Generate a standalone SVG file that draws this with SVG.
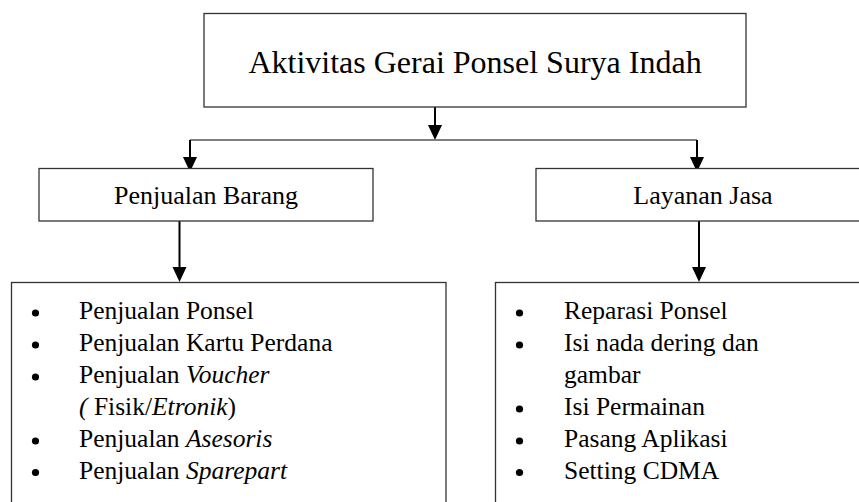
<svg xmlns="http://www.w3.org/2000/svg" width="859" height="502" viewBox="0 0 859 502" font-family="'Liberation Serif', 'Times New Roman', Times, 'DejaVu Serif', serif">
<style>
.box{fill:#fff;stroke:#333;stroke-width:1.3}
text{font-family:'Liberation Serif','Times New Roman',Times,'DejaVu Serif',serif;fill:#000}
.c{stroke:#000;stroke-width:2;fill:none}
.h{stroke:#555;stroke-width:1.3;fill:none}
.ah{fill:#000}
</style>
<g id="connectors">
<line class="c" x1="435" y1="107" x2="435" y2="126"/>
<polygon class="ah" points="428,125 442,125 435,140"/>
<polyline class="h" points="190,140 697,140"/>
<line class="c" x1="190" y1="140" x2="190" y2="158"/>
<polygon class="ah" points="183,157 197,157 190,172"/>
<line class="c" x1="697" y1="140" x2="697" y2="158"/>
<polygon class="ah" points="690,157 704,157 697,172"/>
<line class="c" x1="179.5" y1="221" x2="179.5" y2="268"/>
<polygon class="ah" points="172.5,267 186.5,267 179.5,282"/>
<line class="c" x1="699" y1="221" x2="699" y2="268"/>
<polygon class="ah" points="692,267 706,267 699,282"/>
</g>
<g id="root">
<rect class="box" x="204" y="13.5" width="542" height="93.5"/>
<text x="475" y="73" font-size="32" text-anchor="middle">Aktivitas Gerai Ponsel Surya Indah</text>
</g>
<g id="penjualan-barang">
<rect class="box" x="39" y="168.5" width="334" height="52.5"/>
<text x="206" y="203.5" font-size="26" text-anchor="middle">Penjualan Barang</text>
</g>
<g id="layanan-jasa">
<rect class="box" x="536" y="168.5" width="340" height="52.5"/>
<text x="703" y="203.5" font-size="26" text-anchor="middle">Layanan Jasa</text>
</g>
<g id="list-barang">
<rect class="box" x="11.5" y="282.5" width="434.5" height="240"/>
<g fill="#000">
<circle cx="35.5" cy="313" r="3.6"/>
<circle cx="35.5" cy="345" r="3.6"/>
<circle cx="35.5" cy="377" r="3.6"/>
<circle cx="35.5" cy="441" r="3.6"/>
<circle cx="35.5" cy="472.5" r="3.6"/>
</g>
<g font-size="25.5">
<text x="79" y="319">Penjualan Ponsel</text>
<text x="79" y="351">Penjualan Kartu Perdana</text>
<text x="79" y="383">Penjualan <tspan font-style="italic">Voucher</tspan></text>
<text x="79" y="415"><tspan font-style="italic">(</tspan> Fisik/<tspan font-style="italic">Etronik</tspan>)</text>
<text x="79" y="447">Penjualan <tspan font-style="italic">Asesoris</tspan></text>
<text x="79" y="478.5">Penjualan <tspan font-style="italic">Sparepart</tspan></text>
</g>
</g>
<g id="list-jasa">
<rect class="box" x="495.5" y="282.5" width="380" height="240"/>
<g fill="#000">
<circle cx="519.5" cy="313" r="3.6"/>
<circle cx="519.5" cy="345" r="3.6"/>
<circle cx="519.5" cy="409" r="3.6"/>
<circle cx="519.5" cy="441" r="3.6"/>
<circle cx="519.5" cy="472.5" r="3.6"/>
</g>
<g font-size="25.5">
<text x="564" y="319">Reparasi Ponsel</text>
<text x="564" y="351">Isi nada dering dan</text>
<text x="564" y="383">gambar</text>
<text x="564" y="415">Isi Permainan</text>
<text x="564" y="447">Pasang Aplikasi</text>
<text x="564" y="478.5">Setting CDMA</text>
</g>
</g>
</svg>
